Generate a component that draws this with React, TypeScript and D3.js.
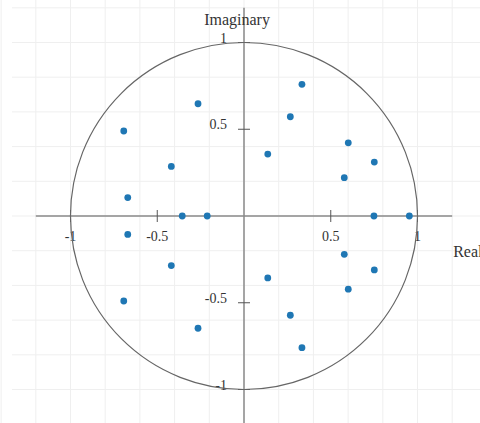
import { useEffect, useRef } from "react";
import * as d3 from "d3";

// roots (upper half); the lower half is the conjugate set
const realParts = [0.334, -0.265, 0.267, -0.693, 0.601, 0.137, -0.419, 0.751, 0.578, -0.67];
const imagParts = [0.759, 0.647, 0.572, 0.49, 0.422, 0.357, 0.286, 0.311, 0.221, 0.106];
const realRoots = [-0.356, -0.212, 0.749, 0.953];
const xTicks = [-1, -0.5, 0.5, 1];
const yTicks = [-1, -0.5, 0.5, 1];
const gridSteps = [-1.4, -1.2, -1, -0.8, -0.6, -0.4, -0.2, 0, 0.2, 0.4, 0.6, 0.8, 1, 1.2, 1.4];

const App = () => {
  const chartRef = useRef<SVGSVGElement | null>(null);

  useEffect(() => {
    const svg = d3.select(chartRef.current);
    svg.selectAll("*").remove();

    const width = 480;
    const height = 423;

    const x = d3.scaleLinear().domain([-1.2, 1.2]).range([35.8, 452.2]);
    const y = d3.scaleLinear().domain([-1.2, 1.2]).range([424.2, 7.8]);

    // points: conjugate pairs plus the real ones
    const points: { re: number; im: number }[] = [];
    realParts.forEach((re, i) => {
      points.push({ re, im: imagParts[i] });
      points.push({ re, im: -imagParts[i] });
    });
    realRoots.forEach((re) => points.push({ re, im: 0 }));

    // background grid
    const grid = svg.append("g").attr("stroke", "#efefef").attr("stroke-width", 1);
    gridSteps.forEach((v) => {
      grid
        .append("line")
        .attr("x1", x(v))
        .attr("x2", x(v))
        .attr("y1", 0)
        .attr("y2", height);
      grid
        .append("line")
        .attr("x1", 12)
        .attr("x2", width)
        .attr("y1", y(v))
        .attr("y2", y(v));
    });

    // axes through origin
    const axisColor = "#8a8a8a";
    svg
      .append("line")
      .attr("x1", x(-1.2))
      .attr("x2", x(1.2))
      .attr("y1", y(0))
      .attr("y2", y(0))
      .attr("stroke", axisColor)
      .attr("stroke-width", 1.5);
    svg
      .append("line")
      .attr("x1", x(0))
      .attr("x2", x(0))
      .attr("y1", y(1.2))
      .attr("y2", y(-1.2))
      .attr("stroke", axisColor)
      .attr("stroke-width", 1.5);

    // ticks
    xTicks.forEach((t) => {
      svg
        .append("line")
        .attr("x1", x(t))
        .attr("x2", x(t))
        .attr("y1", y(0) - 6)
        .attr("y2", y(0) + 6)
        .attr("stroke", "#555")
        .attr("stroke-width", 1);
      svg
        .append("text")
        .attr("x", x(t))
        .attr("y", y(0) + 25)
        .attr("text-anchor", "middle")
        .attr("font-family", "Liberation Serif, serif")
        .attr("font-size", 14)
        .attr("fill", "#333")
        .text(String(t));
    });
    yTicks.forEach((t) => {
      svg
        .append("line")
        .attr("x1", x(0) - 6)
        .attr("x2", x(0) + 6)
        .attr("y1", y(t))
        .attr("y2", y(t))
        .attr("stroke", "#555")
        .attr("stroke-width", 1);
      svg
        .append("text")
        .attr("x", x(0) - 17)
        .attr("y", y(t))
        .attr("text-anchor", "end")
        .attr("font-family", "Liberation Serif, serif")
        .attr("font-size", 14)
        .attr("fill", "#333")
        .text(String(t));
    });

    // unit circle
    svg
      .append("circle")
      .attr("cx", x(0))
      .attr("cy", y(0))
      .attr("r", x(1) - x(0))
      .attr("fill", "none")
      .attr("stroke", "#666")
      .attr("stroke-width", 1.2);

    // axis titles
    svg
      .append("text")
      .attr("x", x(0) - 7)
      .attr("y", 25)
      .attr("text-anchor", "middle")
      .attr("font-family", "Liberation Serif, serif")
      .attr("font-size", 16)
      .attr("fill", "#333")
      .text("Imaginary");
    svg
      .append("text")
      .attr("x", x(1.2) + 1)
      .attr("y", y(0) + 41)
      .attr("font-family", "Liberation Serif, serif")
      .attr("font-size", 16)
      .attr("fill", "#333")
      .text("Real");

    // dots
    svg
      .append("g")
      .selectAll("circle")
      .data(points)
      .join("circle")
      .attr("cx", (d) => x(d.re))
      .attr("cy", (d) => y(d.im))
      .attr("r", 3.4)
      .attr("fill", "#1f77b4");
  }, []);

  return (
    <svg
      ref={chartRef}
      width={480}
      height={423}
      style={{ position: "absolute", left: 0, top: 0, background: "#fff" }}
    />
  );
};

export default App;
